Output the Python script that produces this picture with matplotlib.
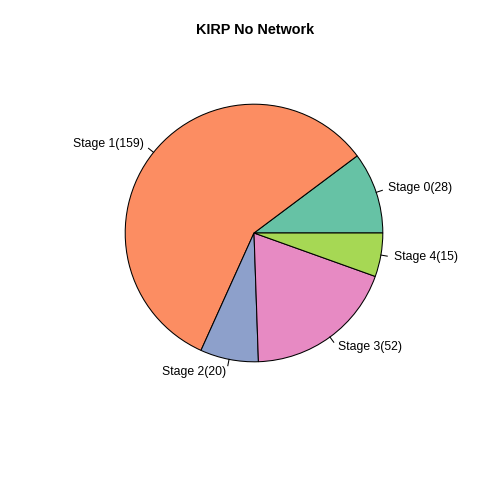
import numpy as np
import matplotlib
matplotlib.use("Agg")
import matplotlib.pyplot as plt

labels = ["Stage 0", "Stage 1", "Stage 2", "Stage 3", "Stage 4"]
counts = [28, 159, 20, 52, 15]
colors = ["#66C2A5", "#FC8D62", "#8DA0CB", "#E78AC3", "#A6D854"]
title = "KIRP No Network"

plt.rcParams['font.family'] = ['Liberation Sans', 'DejaVu Sans']
fig = plt.figure(figsize=(4.8, 4.8), dpi=100)
W = 322 / 480
cx, cy = 254 / 480, 247 / 480
ax = fig.add_axes([cx - W / 2, cy - W / 2, W, W])

R = 0.8
ax.pie(counts, colors=colors, radius=R, startangle=0, counterclock=True,
       wedgeprops=dict(edgecolor='black', linewidth=0.75))

tot = sum(counts)
cum = np.cumsum([0] + counts)
for i, (lab, c) in enumerate(zip(labels, counts)):
    mid = (cum[i] + cum[i + 1]) / 2 / tot * 2 * np.pi
    x, y = np.cos(mid), np.sin(mid)
    ax.plot([R * x, 1.05 * R * x], [R * y, 1.05 * R * y], color='black', lw=0.75)
    ax.text(1.1 * R * x, 1.1 * R * y, f"{lab}({c})", ha='left' if x >= 0 else 'right',
            va='center', fontsize=8.85)

ax.set_xlim(-1, 1)
ax.set_ylim(-1, 1)
ax.set_aspect('equal')
ax.axis('off')

fig.text(255 / 480, 1 - 30 / 480, title, ha='center', va='center', fontsize=10.4, fontweight='bold')
fig.savefig("out.png", dpi=100)
